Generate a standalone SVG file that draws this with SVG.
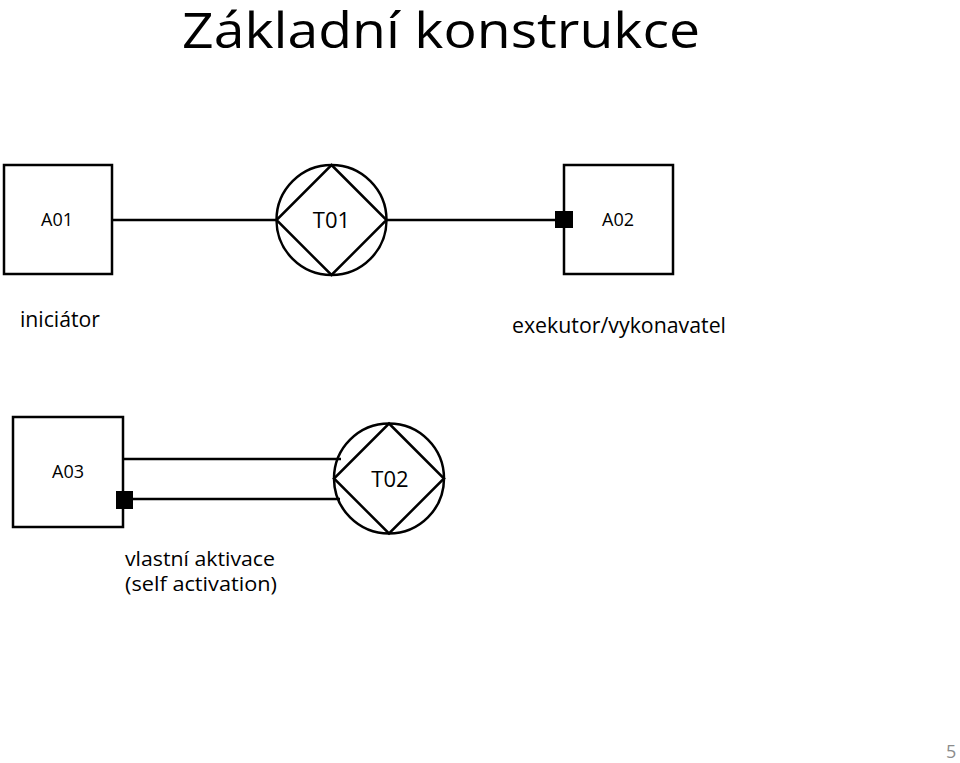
<svg xmlns="http://www.w3.org/2000/svg" width="960" height="763" viewBox="0 0 960 763">
<style>
.box{fill:#fff;stroke:#000;stroke-width:2.5}
.ln{fill:none;stroke:#000;stroke-width:2.5}
.t{font-family:"Open Sans","Liberation Sans",sans-serif;fill:#000}
</style>
<rect width="960" height="763" fill="#fff"/>
<text class="t" x="441" y="48" font-size="50" text-anchor="middle" textLength="518" lengthAdjust="spacingAndGlyphs">Základní konstrukce</text>
<g id="A01">
<rect class="box" x="4" y="165" width="108" height="109"/>
<text class="t" x="57" y="226" font-size="18" text-anchor="middle">A01</text>
</g>
<g id="T01">
<circle class="ln" cx="331.5" cy="220" r="55"/>
<polygon class="ln" points="331.5,165 386.5,220 331.5,275 276.5,220"/>
<text class="t" x="331.5" y="228" font-size="22" text-anchor="middle">T01</text>
</g>
<g id="A02">
<rect class="box" x="564" y="165" width="109" height="109"/>
<text class="t" x="618" y="226" font-size="18" text-anchor="middle">A02</text>
</g>
<text class="t" x="20" y="327" font-size="21" textLength="80" lengthAdjust="spacingAndGlyphs">iniciátor</text>
<text class="t" x="512" y="333" font-size="21" textLength="214" lengthAdjust="spacingAndGlyphs">exekutor/vykonavatel</text>
<g id="A03">
<rect class="box" x="13" y="417" width="110" height="110"/>
<text class="t" x="68" y="478" font-size="18" text-anchor="middle">A03</text>
</g>
<g id="T02">
<circle class="ln" cx="389" cy="478.5" r="55"/>
<polygon class="ln" points="389,423.5 444,478.5 389,533.5 334,478.5"/>
<text class="t" x="390" y="487" font-size="22" text-anchor="middle">T02</text>
</g>
<g id="connectors">
<line class="ln" x1="112" y1="220" x2="276" y2="220"/>
<line class="ln" x1="387" y1="220" x2="563" y2="220"/>
<line class="ln" x1="123" y1="459" x2="341" y2="459"/>
<line class="ln" x1="123" y1="499" x2="340" y2="499"/>
<rect x="555" y="211" width="18" height="17" fill="#000"/>
<rect x="116" y="491" width="17" height="18" fill="#000"/>
</g>
<text class="t" x="125" y="566" font-size="20" textLength="150" lengthAdjust="spacingAndGlyphs">vlastní aktivace</text>
<text class="t" x="125" y="591" font-size="20" textLength="152" lengthAdjust="spacingAndGlyphs">(self activation)</text>
<text class="t" x="946" y="758" font-size="18" style="fill:#8b8b8b">5</text>
</svg>
